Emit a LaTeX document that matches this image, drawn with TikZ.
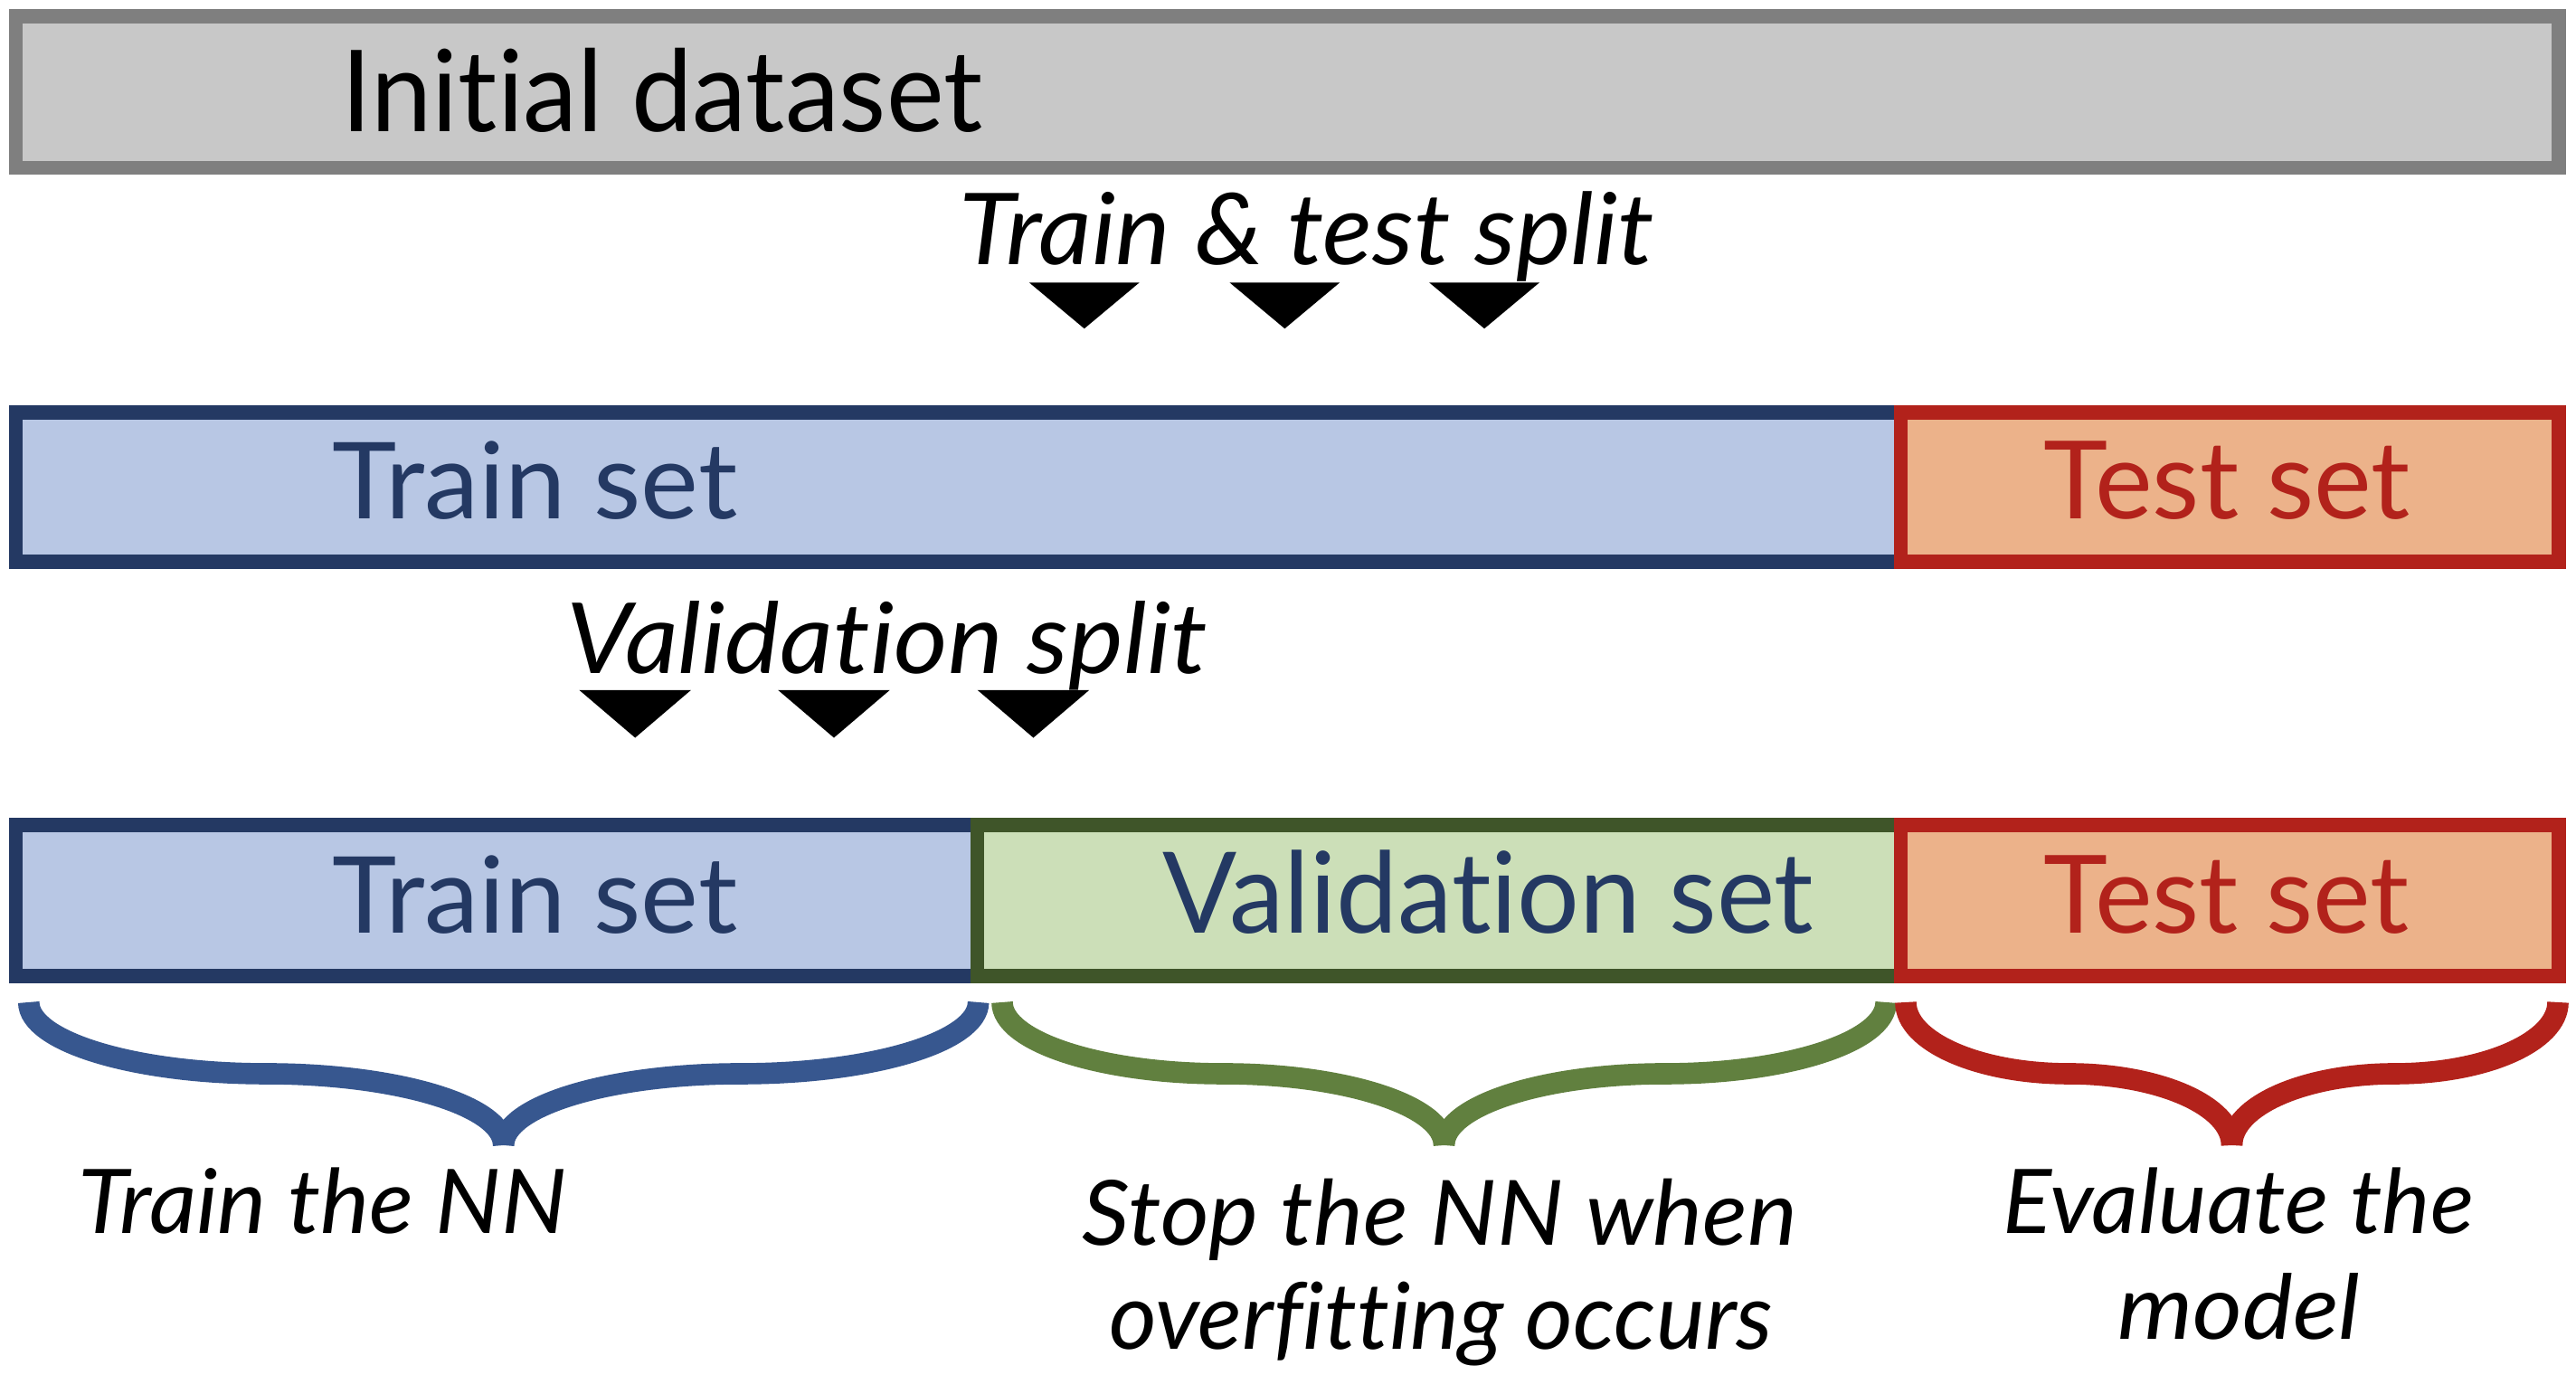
\documentclass[tikz,border=0pt]{standalone}
\usepackage{fontspec}
\usepackage{graphicx}
\setmainfont{Lato}[Ligatures={NoCommon,NoContextual}]
\definecolor{graybd}{HTML}{7F7F7F}
\definecolor{grayfill}{HTML}{C8C8C8}
\definecolor{navy}{HTML}{243963}
\definecolor{trainfill}{HTML}{B8C7E4}
\definecolor{testfill}{HTML}{ECB28A}
\definecolor{testred}{HTML}{B2221B}
\definecolor{valfill}{HTML}{CCDFB8}
\definecolor{valbd}{HTML}{3F5529}
\definecolor{braceblue}{HTML}{37578F}
\definecolor{bracegreen}{HTML}{61803F}
\newcommand{\fittext}[3]{\resizebox{#1pt}{#2pt}{#3}}
\newcommand{\nl}{\kern0pt\relax}
\tikzset{
  setbox/.style={line width=8.5pt, line join=miter},
  lbl/.style={inner sep=0pt, outer sep=0pt, anchor=base west, font=\fontsize{40}{48}\selectfont},
  ilbl/.style={lbl, font=\fontsize{40}{48}\selectfont\itshape},
  tri/.style={fill=black, draw=none},
  bracestroke/.style={line width=13pt, line cap=butt}
}
\newcommand{\halfbrace}[5]{% color, x end, a (signed), tip x, dummy
  \draw[bracestroke, #1] (#2,610) .. controls (#2,634.0) and ({#2+0.4477*#3},653.5) .. ({#2+#3},653.5)
     .. controls ({#2+1.5523*#3},653.5) and (#4,673.0) .. (#4,697);
}
\begin{document}
\begin{tikzpicture}[x=1pt,y=-1pt]
\useasboundingbox (0,0) rectangle (1568,836.85);
\fill[white] (0,0) rectangle (1568,836.85);

% Initial dataset
\draw[setbox, draw=graybd, fill=grayfill] (9.5,10) rectangle (1557.5,102);
\node[lbl] (init) at (208,80) {\fittext{390}{50.8}{Init\nl ial dataset}};

% Train & test split
\node[ilbl] (split1) at (584,161) {\fittext{423}{44.5}{Train \& test split}};
\foreach \t [count=\i] in {660,782,903.5}
  \fill[tri] (\t-33.5,172) -- (\t+33.5,172) -- (\t,200) -- cycle;

% Row 2
\draw[setbox, draw=navy, fill=trainfill] (9.5,251) rectangle (1157,342);
\draw[setbox, draw=testred, fill=testfill] (1157,251) rectangle (1557.5,342);
\node[lbl, text=navy] (train1) at (202.6,316) {\fittext{246.4}{47.2}{Train set}};
\node[lbl, text=testred] (test1) at (1244,316) {\fittext{223}{47.2}{Test set}};

% Validation split
\node[ilbl] (split2) at (345,410) {\fittext{390}{44}{Validat\nl ion split}};
\foreach \t in {386.6,507.6,629}
  \fill[tri] (\t-34,420) -- (\t+34,420) -- (\t,449) -- cycle;

% Row 3
\draw[setbox, draw=navy, fill=trainfill] (9.5,502) rectangle (595,594);
\draw[setbox, draw=valbd, fill=valfill] (595,502) rectangle (1157,594);
\draw[setbox, draw=testred, fill=testfill] (1157,502) rectangle (1557.5,594);
\node[lbl, text=navy] (train2) at (202.6,568) {\fittext{246.4}{47.2}{Train set}};
\node[lbl, text=navy] (val2) at (708,568) {\fittext{396}{50.5}{Validat\nl ion set}};
\node[lbl, text=testred] (test2) at (1244,568) {\fittext{222.6}{47.2}{Test set}};

% Braces
\halfbrace{braceblue}{17.5}{144.5}{306.5}{}
\halfbrace{braceblue}{595.5}{-144.5}{306.5}{}
\halfbrace{bracegreen}{610}{134.5}{879}{}
\halfbrace{bracegreen}{1148}{-134.5}{879}{}
\halfbrace{testred}{1160}{99.25}{1358.5}{}
\halfbrace{testred}{1557}{-99.25}{1358.5}{}

% Bottom labels
\node[ilbl] (lab1) at (47.5,750.6) {\fittext{297.5}{40}{Train the NN}};
\node[ilbl] (lab2a) at (659,757.6) {\fittext{435}{40.4}{Stop the NN when}};
\node[ilbl] (lab2b) at (675,821) {\fittext{404}{41}{overf\nl it\nl t\nl ing occurs}};
\node[ilbl] (lab3a) at (1219,750.6) {\fittext{287}{40}{Evaluate the}};
\node[ilbl] (lab3b) at (1289,815) {\fittext{147.6}{40.2}{model}};
\end{tikzpicture}
\end{document}
